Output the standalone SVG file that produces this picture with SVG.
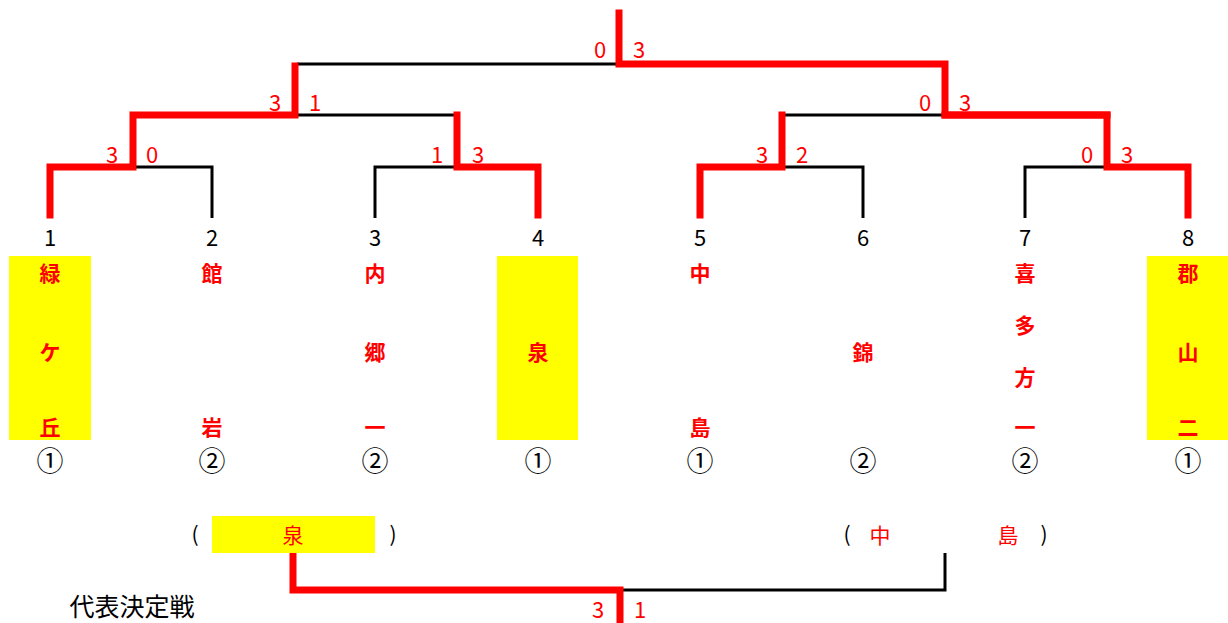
<svg xmlns="http://www.w3.org/2000/svg" width="1228" height="623" viewBox="0 0 1228 623">
<style>
.r{fill:none;stroke:#ff0000;stroke-width:7;stroke-linecap:square}
.b{fill:none;stroke:#000;stroke-width:3}
.sc{font-family:"Noto Sans CJK JP","Liberation Sans",sans-serif;font-size:22px;fill:#ff0000;text-anchor:middle}
.num{font-family:"Noto Sans CJK JP","Liberation Sans",sans-serif;font-size:22px;fill:#000;text-anchor:middle}
.cn{font-family:"Noto Sans CJK JP",sans-serif;font-size:27px;fill:#000;text-anchor:middle}
.nm{font-family:"Noto Sans CJK JP",sans-serif;font-size:21px;font-weight:bold;fill:#ff0000;text-anchor:middle}
.nr{font-family:"Noto Sans CJK JP",sans-serif;font-size:21px;fill:#ff0000;text-anchor:middle}
.bk{font-family:"Noto Sans CJK JP",sans-serif;font-size:21px;fill:#000;text-anchor:middle}
.tt{font-family:"Noto Sans CJK JP",sans-serif;font-size:25px;fill:#000;text-anchor:middle}
.y{fill:#ffff00}
</style>
<g id="connectors">
<path class="b" d="M297 64H619"/>
<path class="b" d="M297 115H457"/>
<path class="b" d="M782 115H945"/>
<path class="b" d="M133 167H212V218"/>
<path class="b" d="M457 167H375V218"/>
<path class="b" d="M782 167H863V218"/>
<path class="b" d="M1107 167H1025V218"/>
<path class="b" d="M620 590H945V553"/>
<path class="r" d="M619 13V64H945V115H1107V167H1188V215"/>
<path class="r" d="M295 66V115H133V167H50V215"/>
<path class="r" d="M457 115V167H538V215"/>
<path class="r" d="M782 115V167H700V215"/>
<path class="r" d="M945 115H1107"/>
<path class="r" d="M293 556V590H620V620"/>
</g>
<g id="scores">
<text class="sc" x="600" y="58">0</text><text class="sc" x="639" y="58">3</text>
<text class="sc" x="275" y="111">3</text><text class="sc" x="315" y="111">1</text>
<text class="sc" x="925" y="111">0</text><text class="sc" x="965" y="111">3</text>
<text class="sc" x="112" y="163">3</text><text class="sc" x="152" y="163">0</text>
<text class="sc" x="437" y="163">1</text><text class="sc" x="478" y="163">3</text>
<text class="sc" x="762" y="163">3</text><text class="sc" x="802" y="163">2</text>
<text class="sc" x="1087" y="163">0</text><text class="sc" x="1127" y="163">3</text>
<text class="sc" x="598" y="618">3</text><text class="sc" x="640" y="618">1</text>
</g>
<g id="team1"><rect class="y" x="9" y="256" width="82" height="184"/><text class="num" x="50" y="246">1</text><text class="nm" x="50" y="281">緑</text><text class="nm" x="50" y="360">ケ</text><text class="nm" x="50" y="435">丘</text><text class="cn" x="50" y="471">①</text></g>
<g id="team2"><text class="num" x="212" y="246">2</text><text class="nm" x="212" y="281">館</text><text class="nm" x="212" y="435">岩</text><text class="cn" x="212" y="471">②</text></g>
<g id="team3"><text class="num" x="375" y="246">3</text><text class="nm" x="375" y="281">内</text><text class="nm" x="375" y="360">郷</text><text class="nm" x="375" y="435">一</text><text class="cn" x="375" y="471">②</text></g>
<g id="team4"><rect class="y" x="497" y="256" width="81" height="184"/><text class="num" x="538" y="246">4</text><text class="nm" x="538" y="360">泉</text><text class="cn" x="538" y="471">①</text></g>
<g id="team5"><text class="num" x="700" y="246">5</text><text class="nm" x="700" y="281">中</text><text class="nm" x="700" y="435">島</text><text class="cn" x="700" y="471">①</text></g>
<g id="team6"><text class="num" x="863" y="246">6</text><text class="nm" x="863" y="360">錦</text><text class="cn" x="863" y="471">②</text></g>
<g id="team7"><text class="num" x="1025" y="246">7</text><text class="nm" x="1025" y="281">喜</text><text class="nm" x="1025" y="333">多</text><text class="nm" x="1025" y="385">方</text><text class="nm" x="1025" y="435">一</text><text class="cn" x="1025" y="471">②</text></g>
<g id="team8"><rect class="y" x="1147" y="256" width="81" height="184"/><text class="num" x="1188" y="246">8</text><text class="nm" x="1188" y="281">郡</text><text class="nm" x="1188" y="360">山</text><text class="nm" x="1188" y="435">二</text><text class="cn" x="1188" y="471">①</text></g>
<g id="rep1"><rect class="y" x="212" y="516" width="163" height="37"/><text class="bk" x="195" y="542">(</text><text class="nr" x="293" y="543">泉</text><text class="bk" x="393" y="542">)</text></g>
<g id="rep2"><text class="bk" x="847" y="542">(</text><text class="nr" x="880" y="543">中</text><text class="nr" x="1008" y="543">島</text><text class="bk" x="1044" y="542">)</text></g>
<g id="title"><text class="tt" x="132" y="616">代表決定戦</text></g>
</svg>
